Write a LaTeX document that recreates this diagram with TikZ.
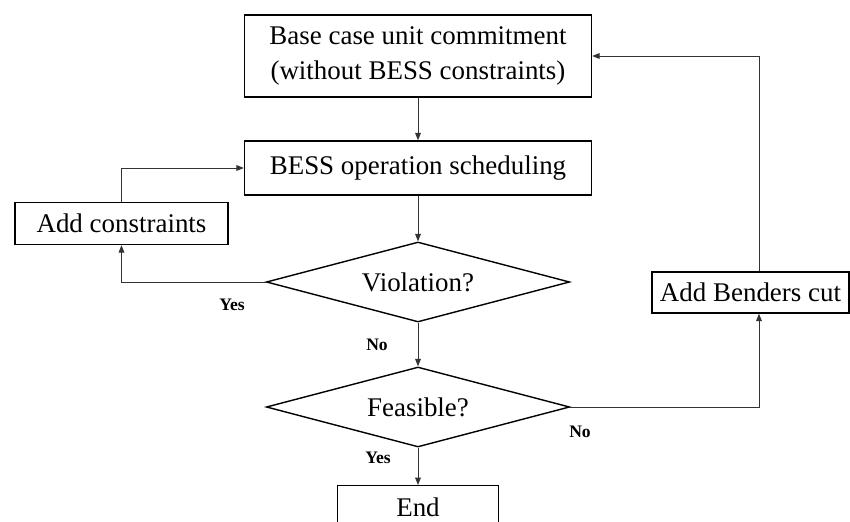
\documentclass[tikz,border=0pt]{standalone}
\usepackage{fontspec}
\setmainfont{Liberation Serif}
\usetikzlibrary{shapes.geometric,arrows.meta}

\begin{document}
\begin{tikzpicture}[
    >={Triangle[length=1.1mm,width=0.85mm]},
    font=\fontsize{11.5}{15}\selectfont,
    box/.style={draw, line width=0.6pt, align=center, inner sep=0pt},
    decision/.style={diamond, draw, line width=0.6pt, inner sep=0pt,
        aspect=3.8, minimum width=4.55cm, minimum height=1.2cm},
    conn/.style={->, line width=0.4pt, black!80},
    lbl/.style={font=\fontsize{7.5}{8}\selectfont\bfseries}
]

    \useasboundingbox (0,0) rectangle (12.75,7.815);

    % Base case
    \node[box, minimum width=5.205cm, minimum height=1.23cm] (base)
        at (6.27,6.975) {Base case unit commitment\\(without BESS constraints)};

    % Scheduling
    \node[box, minimum width=5.205cm, minimum height=0.81cm] (sched)
        at (6.27,5.295) {BESS operation scheduling};

    % Add constraints
    \node[box, minimum width=3.2cm, minimum height=0.63cm] (addc)
        at (1.8225,4.4625) {Add constraints};

    % Violation?
    \node[decision] (viol) at (6.27,3.585) {Violation?};

    % Feasible?
    \node[decision] (feas) at (6.27,1.71) {Feasible?};

    % End
    \node[box, minimum width=2.415cm, minimum height=0.66cm] (end)
        at (6.27,0.2) {End};

    % Benders cut
    \node[box, minimum width=2.955cm, minimum height=0.615cm] (cut)
        at (11.2575,3.4275) {Add Benders cut};
    \coordinate (turn) at (11.385,1.71);

    % Main column
    \draw[conn] (base) -- (sched);
    \draw[conn] (sched) -- (viol);
    \draw[conn] (viol) -- (feas);
    \draw[conn] (feas) -- (end);

    % Violation loop
    \draw[conn] (viol.west) -| (addc.south);
    \draw[conn] (addc.north) |- (sched.west);

    % Benders loop
    \draw[conn] (feas.east) -- (turn) -- (turn |- cut.south);
    \draw[conn] (turn |- cut.north) |- (base.east);

    % Labels
    \node[lbl] (yes1) at (3.48,3.24) {Yes};
    \node[lbl] (no1) at (5.655,2.64) {No};
    \node[lbl] (no2) at (8.7,1.335) {No};
    \node[lbl] (yes2) at (5.67,0.945) {Yes};

\end{tikzpicture}
\end{document}
